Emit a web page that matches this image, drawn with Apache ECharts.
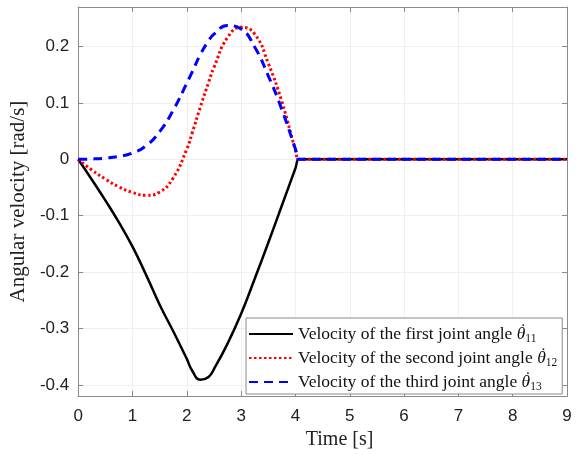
<!DOCTYPE html>
<html>
<head>
<meta charset="utf-8">
<script src="https://cdn.jsdelivr.net/npm/echarts@6/dist/echarts.min.js"></script>
<style>
html,body{margin:0;padding:0;background:#fff;}
#chart{width:578px;height:455px;}
</style>
</head>
<body>
<div id="chart"></div>
<script>
var time = [0, 0.25, 0.5, 0.75, 1, 1.25, 1.5, 1.75, 2, 2.1, 2.25, 2.4, 2.5, 2.75, 3, 3.25, 3.5, 3.75, 4, 4.06, 4.1, 9];
var first = [0, -0.036, -0.073, -0.112, -0.155, -0.205, -0.258, -0.305, -0.354, -0.375, -0.391, -0.386, -0.372, -0.327, -0.274, -0.212, -0.148, -0.082, -0.016, 0, 0, 0];
var second = [0, -0.019, -0.035, -0.049, -0.059, -0.064, -0.058, -0.033, 0.018, 0.047, 0.093, 0.136, 0.163, 0.216, 0.234, 0.222, 0.17, 0.102, 0.016, 0, 0, 0];
var third = [0, 0.0005, 0.002, 0.005, 0.011, 0.024, 0.049, 0.087, 0.135, 0.155, 0.186, 0.21, 0.222, 0.237, 0.231, 0.199, 0.148, 0.088, 0.018, 0, 0, 0];
var yTicks = [-0.4, -0.3, -0.2, -0.1, 0, 0.1, 0.2];
var names = ['first', 'second', 'third'];
var subs = ['11', '12', '13'];

function pairs(ys) { return time.map(function (t, i) { return [t, ys[i]]; }); }

var chart = echarts.init(document.getElementById('chart'), null, {renderer: 'canvas'});
var frame = '#8a8a8a';
var gridCol = '#efefef';
var sans = 'Liberation Sans';
var serif = 'Liberation Serif';

var option = {
  animation: false,
  backgroundColor: '#fff',
  grid: {left: 77, right: 11, top: 7, bottom: 51},
  xAxis: [{
    type: 'value', min: 0, max: 9, interval: 1, position: 'bottom',
    axisLine: {show: true, onZero: false, lineStyle: {color: frame, width: 1}},
    axisTick: {show: true, inside: true, length: 5, lineStyle: {color: frame}},
    axisLabel: {fontFamily: sans, fontSize: 17, color: '#222', margin: 12},
    splitLine: {show: true, lineStyle: {color: gridCol, width: 1}},
    name: 'Time [s]', nameLocation: 'middle', nameGap: 31,
    nameTextStyle: {fontFamily: serif, fontSize: 20, color: '#222', padding: [0, 0, 0, 34]}
  }, {
    type: 'value', min: 0, max: 9, interval: 1, position: 'top',
    axisLine: {show: true, onZero: false, lineStyle: {color: frame, width: 1}},
    axisTick: {show: true, inside: true, length: 5, lineStyle: {color: frame}},
    axisLabel: {show: false}, splitLine: {show: false}
  }],
  yAxis: [{
    type: 'value', min: -0.42, max: 0.27, position: 'left',
    axisLine: {show: true, onZero: false, lineStyle: {color: frame, width: 1}},
    axisTick: {show: true, inside: true, length: 5, lineStyle: {color: frame}, customValues: yTicks},
    axisLabel: {fontFamily: sans, fontSize: 17, color: '#222', margin: 9, customValues: yTicks,
      formatter: function (v) { return String(Math.round(v * 10) / 10); }},
    splitLine: {show: true, lineStyle: {color: gridCol, width: 1}},
    name: 'Angular velocity [rad/s]', nameLocation: 'middle', nameGap: 39, nameRotate: 90,
    nameTextStyle: {fontFamily: serif, fontSize: 21, color: '#222'}
  }, {
    type: 'value', min: -0.42, max: 0.27, position: 'right',
    axisLine: {show: true, onZero: false, lineStyle: {color: frame, width: 1}},
    axisTick: {show: true, inside: true, length: 5, lineStyle: {color: frame}, customValues: yTicks},
    axisLabel: {show: false, customValues: yTicks}, splitLine: {show: false}
  }],
  legend: {
    left: 246, top: 318, orient: 'vertical',
    backgroundColor: '#fff', borderColor: frame, borderWidth: 1, borderRadius: 0,
    padding: [3, 5, 1, 2], itemWidth: 44, itemHeight: 14, itemGap: 0,
    itemStyle: {opacity: 0},
    data: names.map(function (n) { return 'Velocity of the ' + n + ' joint angle'; }),
    formatter: function (name) {
      var idx = 0;
      names.forEach(function (n, i) { if (name.indexOf(n) >= 0) idx = i; });
      return '{a|' + name + ' }{dot|\u02D9}{th|\u03B8}{sub|' + subs[idx] + '}';
    },
    textStyle: {
      fontFamily: serif, fontSize: 17.5, color: '#111',
      rich: {
        a: {fontFamily: serif, fontSize: 17.5, color: '#111', lineHeight: 22, verticalAlign: 'middle'},
        dot: {fontFamily: serif, fontSize: 17.5, color: '#111', height: 14, lineHeight: 14,
          verticalAlign: 'top', padding: [0, -9.3, 0, 3.5]},
        th: {fontFamily: serif, fontSize: 17.5, fontStyle: 'italic', color: '#111', lineHeight: 22},
        sub: {fontFamily: serif, fontSize: 11.5, color: '#111', lineHeight: 12, verticalAlign: 'bottom'}
      }
    }
  },
  series: [{
    name: 'Velocity of the first joint angle', type: 'line', data: pairs(first),
    smooth: 0.5, showSymbol: false, symbol: 'none', z: 2,
    lineStyle: {color: '#000', width: 2.5}, itemStyle: {color: '#000'}
  }, {
    name: 'Velocity of the second joint angle', type: 'line', data: pairs(second),
    smooth: 0.5, showSymbol: false, symbol: 'none', z: 3,
    lineStyle: {color: '#ff0000', width: 3, type: [2.5, 2.5]}, itemStyle: {color: '#ff0000'}
  }, {
    name: 'Velocity of the third joint angle', type: 'line', data: pairs(third),
    smooth: 0.5, showSymbol: false, symbol: 'none', z: 4,
    lineStyle: {color: '#0000ff', width: 3, type: [9, 6]}, itemStyle: {color: '#0000ff'}
  }]
};
chart.setOption(option);
</script>
</body>
</html>
